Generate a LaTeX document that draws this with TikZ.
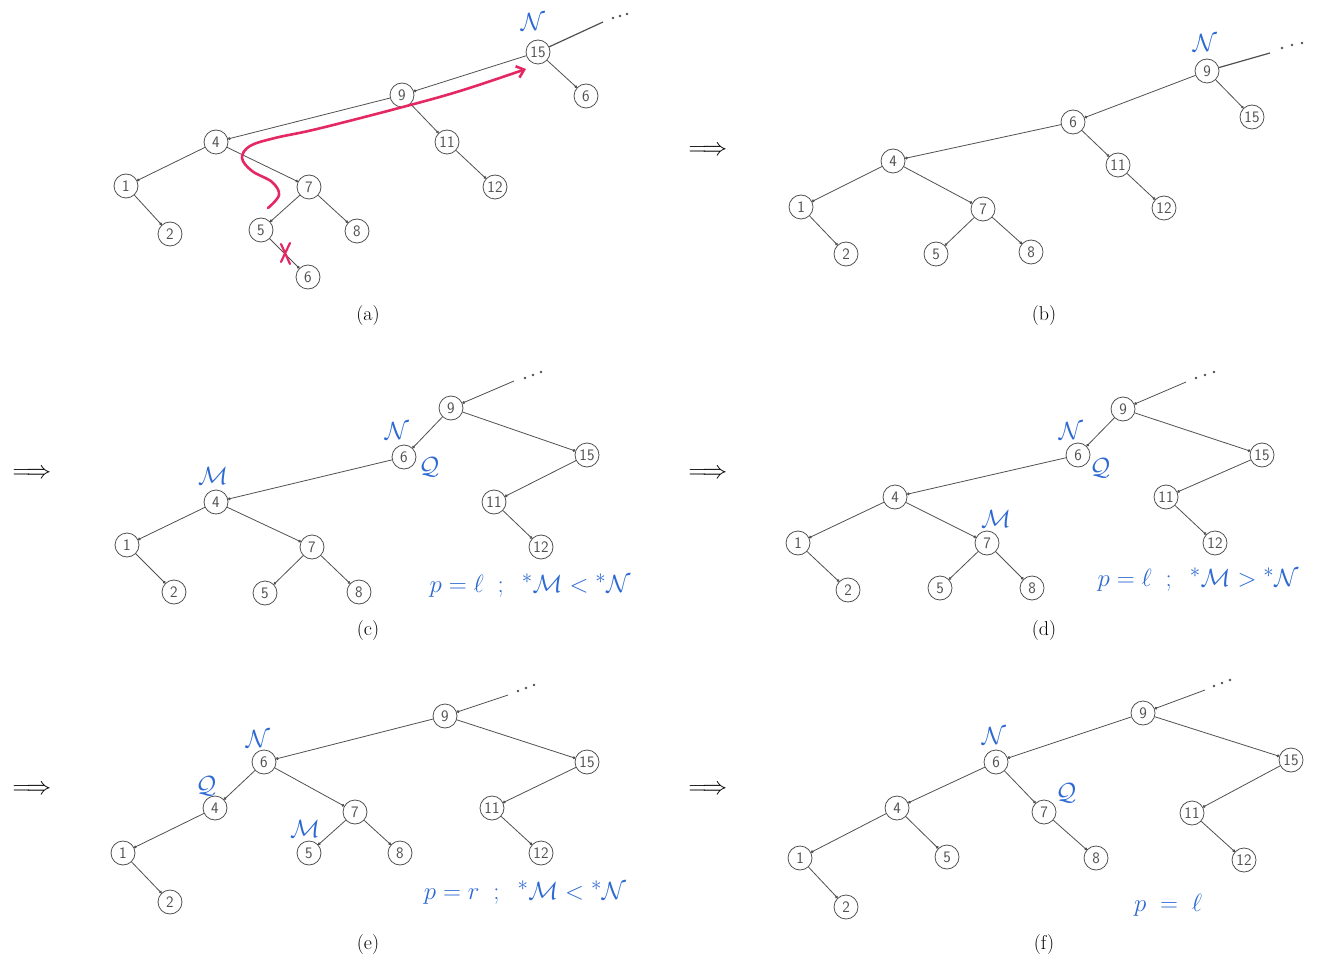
\documentclass[tikz,border=0pt]{standalone}
\usepackage{fontspec}
\usetikzlibrary{arrows.meta}
\definecolor{ink}{RGB}{80,80,80}
\definecolor{hblue}{RGB}{45,105,210}
\definecolor{hred}{RGB}{228,40,100}
\begin{document}
\begin{tikzpicture}[x=1pt,y=-1pt,
  tn/.style={circle,draw=ink,line width=0.8pt,minimum size=24pt,inner sep=0pt,
             font=\fontsize{16}{16}\selectfont\sffamily,text=ink},
  ed/.style={draw=ink,line width=0.8pt,-{Circle[length=2.8pt]}},
  lk/.style={draw=ink,line width=1.2pt},
  dt/.style={circle,fill=ink,inner sep=0pt,minimum size=2.6pt},
  lab/.style={text=hblue,font=\fontsize{24.88}{25}\selectfont,inner sep=0pt},
  frm/.style={text=hblue,font=\fontsize{24.88}{25}\selectfont,inner sep=0pt},
  captxt/.style={font=\fontsize{20}{24}\selectfont,inner sep=0pt},
  imp/.style={font=\fontsize{24.88}{25}\selectfont,inner sep=0pt},
  redpath/.style={draw=hred,line width=2.6pt,line cap=round,line join=round},
]
\useasboundingbox (0,0) rectangle (1324,965);

% ---------------- (a)
\node[tn] (a15) at (538,52) {15};
\node[tn] (a6r) at (586,96) {6};
\node[tn] (a9) at (402,95) {9};
\node[tn] (a4) at (216,142) {4};
\node[tn] (a11) at (447,142) {11};
\node[tn] (a12) at (495,187) {12};
\node[tn] (a1) at (126,186) {1};
\node[tn] (a7) at (309,187) {7};
\node[tn] (a2) at (170,234) {2};
\node[tn] (a5) at (261,230) {5};
\node[tn] (a8) at (357,231) {8};
\node[tn] (a6b) at (308,277) {6};
\coordinate (aP) at (603,22);
\node[dt] (ad1) at (613,18) {};
\node[dt] (ad2) at (620,16) {};
\node[dt] (ad3) at (627,14) {};
\draw[lk] (a15) -- (aP);
\draw[ed] (a15) -- (a9);
\draw[ed] (a15) -- (a6r);
\draw[ed] (a9) -- (a4);
\draw[ed] (a9) -- (a11);
\draw[ed] (a11) -- (a12);
\draw[ed] (a4) -- (a1);
\draw[ed] (a4) -- (a7);
\draw[ed] (a1) -- (a2);
\draw[ed] (a7) -- (a5);
\draw[ed] (a7) -- (a8);
\draw[ed] (a5) -- (a6b);
\node[lab] (aN) at (533,22) {$\mathcal{N}$};
\draw[redpath,-{Straight Barb[length=7pt,width=12pt]}] plot[smooth,tension=0.6] coordinates
  {(268,208) (279,195) (272,182) (252,171) (242,158) (250,146) (275,138) (317,129) (399,108) (460,91) (526,69)};
\coordinate (ax1) at (281,244);
\coordinate (ax2) at (290,264);
\coordinate (ax3) at (290,243);
\coordinate (ax4) at (281,262);
\draw[redpath,line width=2.2pt] (ax1) -- (ax2) (ax3) -- (ax4);
\node[captxt] (capa) at (368,316) {(a)};

% ---------------- arrow
\node[imp] (i1) at (708,151) {$\Longrightarrow$};

% ---------------- (b)
\node[tn] (b9) at (1207,71) {9};
\node[tn] (b15) at (1252,117) {15};
\node[tn] (b6) at (1073,122) {6};
\node[tn] (b11) at (1118,165) {11};
\node[tn] (b12) at (1164,208) {12};
\node[tn] (b4) at (893,161) {4};
\node[tn] (b1) at (801,207) {1};
\node[tn] (b7) at (983,209) {7};
\node[tn] (b2) at (846,254) {2};
\node[tn] (b5) at (936,254) {5};
\node[tn] (b8) at (1031,252) {8};
\coordinate (bP) at (1270,53);
\node[dt] (bd1) at (1282,48) {};
\node[dt] (bd2) at (1292,45) {};
\node[dt] (bd3) at (1302,43) {};
\draw[lk] (b9) -- (bP);
\draw[ed] (b9) -- (b6);
\draw[ed] (b9) -- (b15);
\draw[ed] (b6) -- (b4);
\draw[ed] (b6) -- (b11);
\draw[ed] (b11) -- (b12);
\draw[ed] (b4) -- (b1);
\draw[ed] (b4) -- (b7);
\draw[ed] (b1) -- (b2);
\draw[ed] (b7) -- (b5);
\draw[ed] (b7) -- (b8);
\node[lab] (bN) at (1205,43) {$\mathcal{N}$};
\node[captxt] (capb) at (1044,316) {(b)};

% ---------------- (c)
\node[imp] (i2) at (32,474) {$\Longrightarrow$};
\node[tn] (c9) at (451,408) {9};
\node[tn] (c6) at (404,457) {6};
\node[tn] (c15) at (587,455) {15};
\node[tn] (c4) at (216,502) {4};
\node[tn] (c11) at (494,502) {11};
\node[tn] (c12) at (541,547) {12};
\node[tn] (c1) at (127,545) {1};
\node[tn] (c7) at (312,547) {7};
\node[tn] (c2) at (174,592) {2};
\node[tn] (c5) at (265,593) {5};
\node[tn] (c8) at (359,592) {8};
\coordinate (cP) at (514,381);
\node[dt] (cd1) at (525,378) {};
\node[dt] (cd2) at (533,375) {};
\node[dt] (cd3) at (541,372) {};
\draw[ed] (cP) -- (c9);
\draw[ed] (c9) -- (c6);
\draw[ed] (c9) -- (c15);
\draw[ed] (c6) -- (c4);
\draw[ed] (c15) -- (c11);
\draw[ed] (c11) -- (c12);
\draw[ed] (c4) -- (c1);
\draw[ed] (c4) -- (c7);
\draw[ed] (c1) -- (c2);
\draw[ed] (c7) -- (c5);
\draw[ed] (c7) -- (c8);
\node[lab] (cN) at (397,431) {$\mathcal{N}$};
\node[lab] (cQ) at (429,467) {$\mathcal{Q}$};
\node[lab] (cM) at (213,476) {$\mathcal{M}$};
\node[frm] (cf) at (530,586) {$p = \ell \;\;;\;\; {}^{*}\mathcal{M} < {}^{*}\mathcal{N}$};
\node[captxt] (capc) at (368,631) {(c)};

% ---------------- (d)
\node[imp] (i3) at (708,474) {$\Longrightarrow$};
\node[tn] (d9) at (1123,409) {9};
\node[tn] (d6) at (1078,455) {6};
\node[tn] (d15) at (1262,455) {15};
\node[tn] (d4) at (895,497) {4};
\node[tn] (d11) at (1166,497) {11};
\node[tn] (d12) at (1215,543) {12};
\node[tn] (d1) at (798,543) {1};
\node[tn] (d7) at (987,543) {7};
\node[tn] (d2) at (848,590) {2};
\node[tn] (d5) at (940,588) {5};
\node[tn] (d8) at (1032,588) {8};
\coordinate (dP) at (1186,382);
\node[dt] (dd1) at (1196,378) {};
\node[dt] (dd2) at (1205,375) {};
\node[dt] (dd3) at (1214,372) {};
\draw[ed] (dP) -- (d9);
\draw[ed] (d9) -- (d6);
\draw[ed] (d9) -- (d15);
\draw[ed] (d6) -- (d4);
\draw[ed] (d15) -- (d11);
\draw[ed] (d11) -- (d12);
\draw[ed] (d4) -- (d1);
\draw[ed] (d4) -- (d7);
\draw[ed] (d1) -- (d2);
\draw[ed] (d7) -- (d5);
\draw[ed] (d7) -- (d8);
\node[lab] (dN) at (1071,431) {$\mathcal{N}$};
\node[lab] (dQ) at (1100,468) {$\mathcal{Q}$};
\node[lab] (dM) at (996,519) {$\mathcal{M}$};
\node[frm] (df) at (1198,580) {$p = \ell \;\;;\;\; {}^{*}\mathcal{M} > {}^{*}\mathcal{N}$};
\node[captxt] (capd) at (1044,631) {(d)};

% ---------------- (e)
\node[imp] (i4) at (32,790) {$\Longrightarrow$};
\node[tn] (e9) at (445,716) {9};
\node[tn] (e6) at (264,762) {6};
\node[tn] (e15) at (587,762) {15};
\node[tn] (e4) at (215,808) {4};
\node[tn] (e7) at (355,812) {7};
\node[tn] (e11) at (492,808) {11};
\node[tn] (e5) at (309,853) {5};
\node[tn] (e8) at (400,853) {8};
\node[tn] (e12) at (541,853) {12};
\node[tn] (e1) at (123,853) {1};
\node[tn] (e2) at (170,902) {2};
\coordinate (eP) at (508,695);
\node[dt] (ed1) at (518,691) {};
\node[dt] (ed2) at (526,688) {};
\node[dt] (ed3) at (534,685) {};
\draw[ed] (eP) -- (e9);
\draw[ed] (e9) -- (e6);
\draw[ed] (e9) -- (e15);
\draw[ed] (e6) -- (e4);
\draw[ed] (e6) -- (e7);
\draw[ed] (e4) -- (e1);
\draw[ed] (e1) -- (e2);
\draw[ed] (e7) -- (e5);
\draw[ed] (e7) -- (e8);
\draw[ed] (e15) -- (e11);
\draw[ed] (e11) -- (e12);
\node[lab] (eN) at (258,739) {$\mathcal{N}$};
\node[lab] (eQ) at (206,786) {$\mathcal{Q}$};
\node[lab] (eM) at (305,829) {$\mathcal{M}$};
\node[frm] (ef) at (525,893) {$p = r \;\;;\;\; {}^{*}\mathcal{M} < {}^{*}\mathcal{N}$};
\node[captxt] (cape) at (368,945) {(e)};

% ---------------- (f)
\node[imp] (i5) at (708,790) {$\Longrightarrow$};
\node[tn] (f9) at (1143,713) {9};
\node[tn] (f6) at (996,762) {6};
\node[tn] (f15) at (1291,760) {15};
\node[tn] (f4) at (897,808) {4};
\node[tn] (f7) at (1044,812) {7};
\node[tn] (f11) at (1192,813) {11};
\node[tn] (f1) at (800,858) {1};
\node[tn] (f5) at (947,857) {5};
\node[tn] (f8) at (1096,858) {8};
\node[tn] (f12) at (1244,860) {12};
\node[tn] (f2) at (846,907) {2};
\coordinate (fP) at (1205,690);
\node[dt] (fd1) at (1214,686) {};
\node[dt] (fd2) at (1222,683) {};
\node[dt] (fd3) at (1230,680) {};
\draw[ed] (fP) -- (f9);
\draw[ed] (f9) -- (f6);
\draw[ed] (f9) -- (f15);
\draw[ed] (f6) -- (f4);
\draw[ed] (f6) -- (f7);
\draw[ed] (f4) -- (f1);
\draw[ed] (f4) -- (f5);
\draw[ed] (f1) -- (f2);
\draw[ed] (f7) -- (f8);
\draw[ed] (f15) -- (f11);
\draw[ed] (f11) -- (f12);
\node[lab] (fN) at (994,736) {$\mathcal{N}$};
\node[lab] (fQ) at (1066,793) {$\mathcal{Q}$};
\node[frm] (ff) at (1168,905) {$p \;=\; \ell$};
\node[captxt] (capf) at (1044,945) {(f)};
\end{tikzpicture}
\end{document}
